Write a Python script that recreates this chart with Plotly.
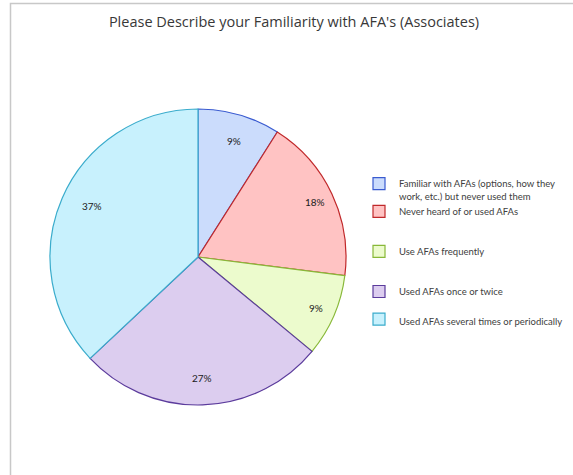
import math
import plotly.graph_objects as go

# Survey categories and their shares (percent)
categories = [
    "Familiar with AFAs (options, how they<br>work, etc.) but never used them",
    "Never heard of or used AFAs",
    "Use AFAs frequently",
    "Used AFAs once or twice",
    "Used AFAs several times or periodically",
]
shares = [9, 18, 9, 27, 37]

fill_colors = ["#cbdcfc", "#ffc3c3", "#ecfbcd", "#dccdef", "#c8f1fd"]
edge_colors = ["#3a5bd0", "#c0282a", "#88b838", "#5b3b9c", "#3aaccc"]

W, H = 573, 475
cx, cy, R = 198, 257, 148  # pie centre and radius in pixels

# Extra blank lines give the legend its looser vertical rhythm
legend_pad = [0, 2, 2, 1, 0]
legend_labels = [c + "<br> " * p for c, p in zip(categories, legend_pad)]

fig = go.Figure(
    go.Pie(
        labels=legend_labels,
        values=shares,
        sort=False,
        direction="clockwise",
        rotation=0,
        textinfo="none",
        hoverinfo="skip",
        marker=dict(colors=fill_colors, line=dict(color=edge_colors, width=1.2)),
        domain=dict(x=[(cx - R) / W, (cx + R) / W],
                    y=[1 - (cy + R) / H, 1 - (cy - R) / H]),
    )
)

# Percentage labels placed near the rim of each slice
total = sum(shares)
cum = 0
annotations = []
for v in shares:
    mid = (cum + v / 2) / total * 2 * math.pi
    cum += v
    px = cx + 0.87 * R * math.sin(mid)
    py = cy - 0.87 * R * math.cos(mid)
    annotations.append(dict(
        x=px / W, y=1 - py / H, xref="paper", yref="paper",
        text=f"{v}%", showarrow=False,
        font=dict(family="Lato", size=10, color="#202020"),
    ))

fig.update_layout(
    width=W, height=H,
    margin=dict(l=0, r=0, t=0, b=0),
    paper_bgcolor="white",
    plot_bgcolor="white",
    title=dict(
        text="Please Describe your Familiarity with AFA's (Associates)",
        x=294 / W, xanchor="center", y=1 - 22 / H, yanchor="middle",
        font=dict(family="Open Sans", size=14.5, color="#383838"),
    ),
    legend=dict(
        x=359 / W, xanchor="left", y=1 - 171 / H, yanchor="top",
        valign="top",
        font=dict(family="Lato", size=9.5, color="#404040"),
        bgcolor="rgba(0,0,0,0)",
    ),
    annotations=annotations,
    shapes=[dict(
        type="rect", xref="paper", yref="paper",
        x0=10.5 / W, x1=1.2, y0=-0.2, y1=1 - 3.5 / H,
        line=dict(color="#c8c8c8", width=1.5), layer="below",
    )],
)

fig.write_html("out.html")
